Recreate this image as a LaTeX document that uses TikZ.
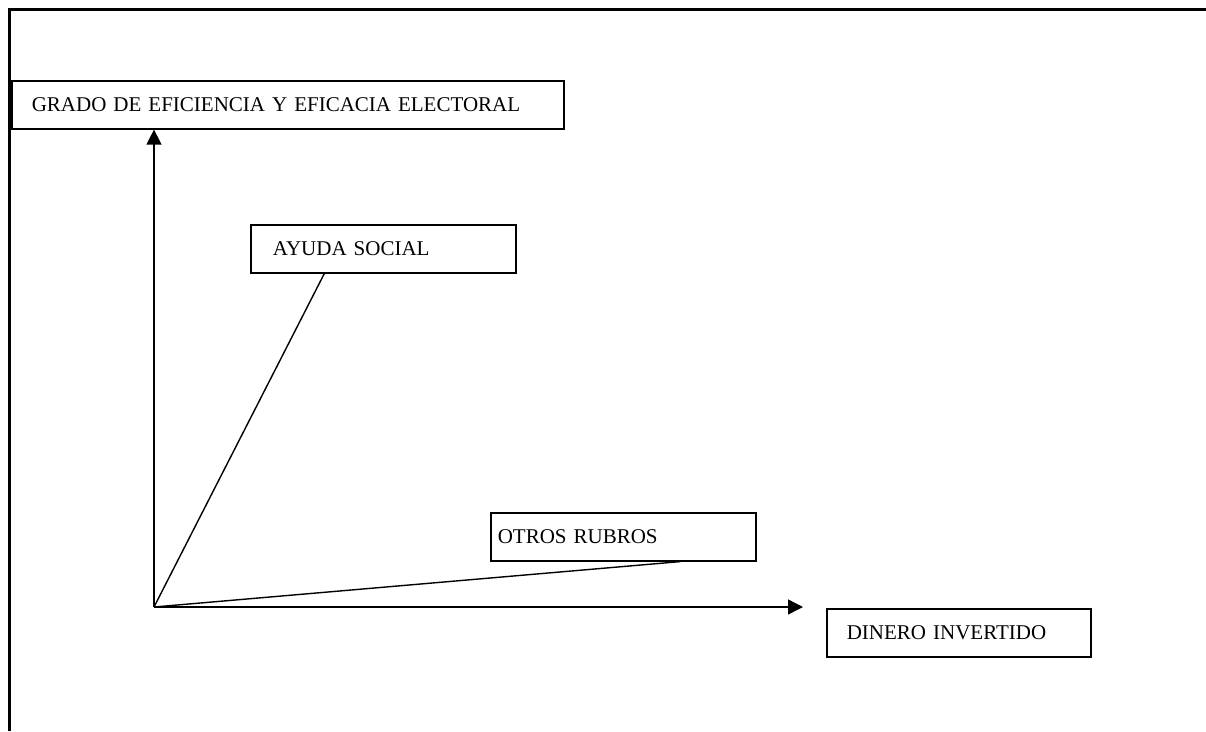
\documentclass[tikz,border=0pt]{standalone}
\usepackage{fontspec}
\setmainfont{Liberation Serif}
\usetikzlibrary{arrows.meta}
\tikzset{
  caja/.style={draw, line width=1.6pt, anchor=north west, align=left,
    minimum height=48pt, inner ysep=0pt, font=\fontsize{21}{24}\selectfont},
  eje/.style={line width=1.4pt, -{Triangle[width=15pt,length=15pt]}},
  recta/.style={line width=1.4pt}
}
\begin{document}
\begin{tikzpicture}[x=1pt,y=-1pt]
			\useasboundingbox (0,0) rectangle (1206,731);
			\draw[line width=3pt] (9,731) -- (9,9) -- (1206,9); % marco
			\node[caja, text width=512pt, inner xsep=20pt] (grado) at (11,80) {GRADO DE EFICIENCIA Y EFICACIA ELECTORAL};
			\node[caja, text width=221pt, inner xsep=22pt] (ayuda) at (250,224) {AYUDA SOCIAL};
			\node[caja, text width=251pt, inner xsep=7pt] (otros) at (490,512) {OTROS RUBROS};
			\node[caja, text width=224pt, inner xsep=20pt] (dinero) at (826,608) {DINERO INVERTIDO};
			\coordinate (O) at (154,607);
			\coordinate (X) at (803,607);
			\draw[eje] (O) -- (O |- grado.south);
			\draw[eje] (O) -- (X);
			\draw[recta] (O) -- ([xshift=-59pt]ayuda.south);
			\draw[recta] (O) -- ([xshift=57pt]otros.south);
		\end{tikzpicture}
\end{document}
